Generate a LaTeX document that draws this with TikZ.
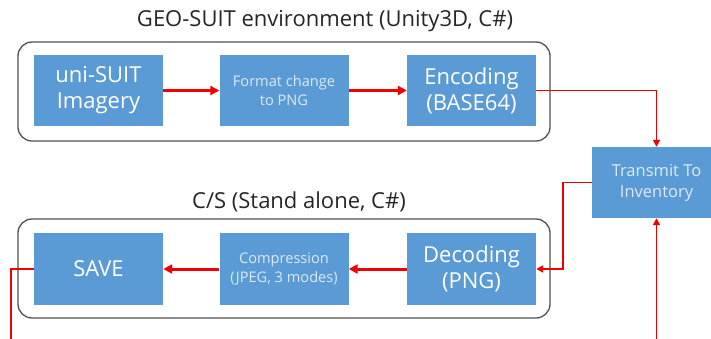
\documentclass[tikz,border=0pt]{standalone}
\usepackage{fontspec}
\setmainfont{Open Sans}
\usetikzlibrary{arrows.meta}
\definecolor{boxblue}{HTML}{5B9BD5}
\definecolor{arrred}{HTML}{F00000}
\definecolor{frame}{HTML}{505050}
\definecolor{softwhite}{HTML}{DDE9F6}
\tikzset{
  container/.style={draw=frame, line width=1.3pt, rounded corners=14pt},
  procbox/.style={rectangle, fill=boxblue, minimum width=129pt, minimum height=71pt, inner sep=0pt, align=center, text=white},
  bigtext/.style={font=\fontsize{22}{26}\selectfont},
  smalltext/.style={font=\fontsize{14.6}{19}\selectfont, text=softwhite},
  midtext/.style={font=\fontsize{16.5}{21}\selectfont, text=softwhite},
  flow/.style={draw=arrred, line width=3pt, -{Triangle[length=9pt,width=9pt]}},
  conn/.style={draw=arrred, line width=1.8pt, -{Triangle[length=7pt,width=7pt]}},
  title/.style={font=\fontsize{22}{26}\selectfont, text=black!85}
}
\begin{document}
\begin{tikzpicture}[x=1pt,y=-1pt]
\useasboundingbox (0,0) rectangle (711,338);
\clip (0,0) rectangle (711,338);
\fill[white] (0,0) rectangle (711,338);
% containers
\draw[container] (18,42) rectangle (550,141);
\draw[container] (18,219) rectangle (550,318);
\node[title] (t1) at (325,21) {GEO-SUIT environment (Unity3D, C\#)};
\node[title] (t2) at (299,202) {C/S (Stand alone, C\#)};
% top row
\node[procbox, bigtext] (uni) at (98.5,90.5) {uni-SUIT\\Imagery};
\node[procbox, smalltext] (fmt) at (284,90.5) {Format change\\to PNG};
\node[procbox, bigtext] (enc) at (471.5,90.5) {Encoding\\(BASE64)};
% transmit
\node[procbox, midtext] (tr) at (656.5,182.5) {Transmit To\\Inventory};
% bottom row
\node[procbox, bigtext, minimum height=72pt] (save) at (98.5,269) {SAVE};
\node[procbox, smalltext, minimum height=72pt] (comp) at (284,269) {Compression\\(JPEG, 3 modes)};
\node[procbox, bigtext, minimum height=72pt] (dec) at (471.5,269) {Decoding\\(PNG)};
% arrows
\draw[flow] (uni.east) -- (fmt.west);
\draw[flow] (fmt.east) -- (enc.west);
\draw[flow] (dec.west) -- (comp.east);
\draw[flow] (comp.west) -- (save.east);
\draw[conn] (enc.east) -| (tr.north);
\coordinate (tl) at (563,182.5);
\draw[conn] (tr.west) -- (tl) |- (dec.east);
\coordinate (bl) at (11,346);
\draw[conn] (save.west) -| (bl) -| (tr.south);
\end{tikzpicture}
\end{document}
